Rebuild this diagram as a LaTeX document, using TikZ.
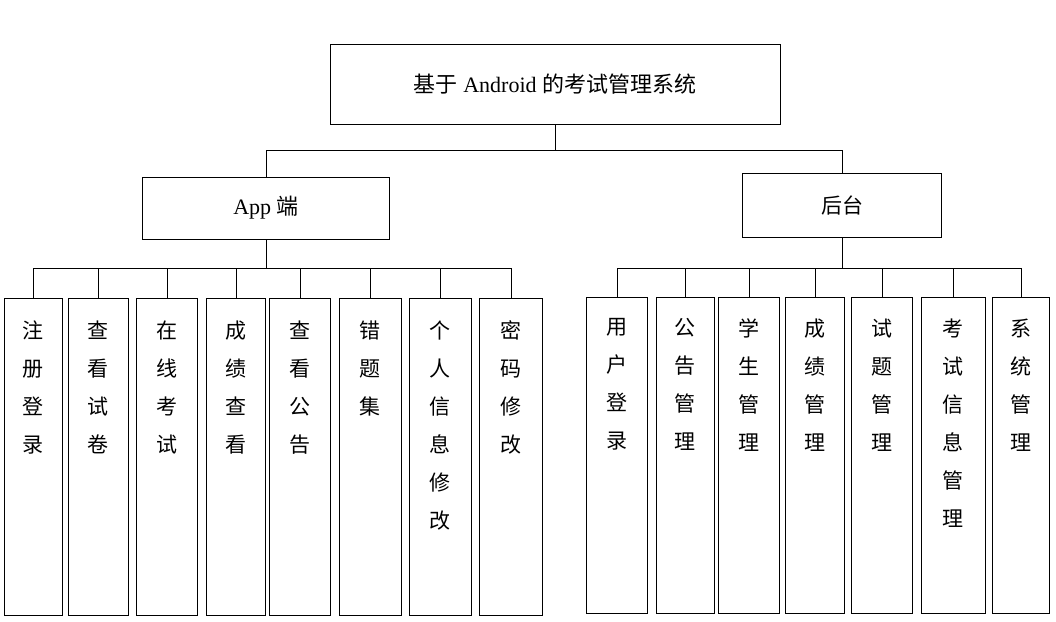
\documentclass[tikz,border=0pt]{standalone}
\usepackage{fontspec}
\setmainfont{Liberation Serif}
\newfontfamily\cjk{Noto Sans CJK SC}
\tikzset{
  box/.style={draw, thick, inner sep=0pt},
  leaf/.style={box, anchor=north},
  leaftext/.style={anchor=north, align=center, font=\cjk\fontsize{21}{38}\selectfont},
  link/.style={thick}
}

\begin{document}
\begin{tikzpicture}[x=1pt, y=-1pt]
\useasboundingbox (0,0) rectangle (1056,621);
% Upper levels
    \node[box, minimum width=450, minimum height=80, font=\fontsize{22}{26}\selectfont] (sys) at (555,84) {{\cjk 基于} Android {\cjk 的考试管理系统}};
    \node[box, minimum width=247, minimum height=62, font=\fontsize{22}{26}\selectfont] (app) at (266,208) {App {\cjk 端}};
    \node[box, minimum width=199, minimum height=64, font=\cjk\fontsize{21}{26}\selectfont] (back) at (842,205) {后台};
    \draw[link] (sys.south) -- ++(0,26) -| (app.north);
    \draw[link] (sys.south) -- ++(0,26) -| (back.north);
% App side
    \foreach \i/\x/\w/\t in {1/33/58/注\\册\\登\\录, 2/98/60/查\\看\\试\\卷, 3/167/61/在\\线\\考\\试,
        4/236/59/成\\绩\\查\\看, 5/300/61/查\\看\\公\\告, 6/370/62/错\\题\\集,
        7/440/62/个\\人\\信\\息\\修\\改, 8/511/63/密\\码\\修\\改} {
        \node[leaf, minimum width=\w, minimum height=317] (a\i) at (\x,298) {};
        \node[leaftext] (at\i) at ([yshift=-19]a\i.north) {\t};
        \draw[link] (app.south) -- ++(0,29) -| (a\i.north);
    }
% Back side
    \foreach \i/\x/\w/\t in {1/617/61/用\\户\\登\\录, 2/685/58/公\\告\\管\\理, 3/749/61/学\\生\\管\\理,
        4/815/59/成\\绩\\管\\理, 5/882/61/试\\题\\管\\理, 6/953/64/考\\试\\信\\息\\管\\理,
        7/1021/57/系\\统\\管\\理} {
        \node[leaf, minimum width=\w, minimum height=316] (b\i) at (\x,297) {};
        \node[leaftext] (bt\i) at ([yshift=-18]b\i.north) {\t};
        \draw[link] (back.south) -- ++(0,31) -| (b\i.north);
    }
\end{tikzpicture}
\end{document}
